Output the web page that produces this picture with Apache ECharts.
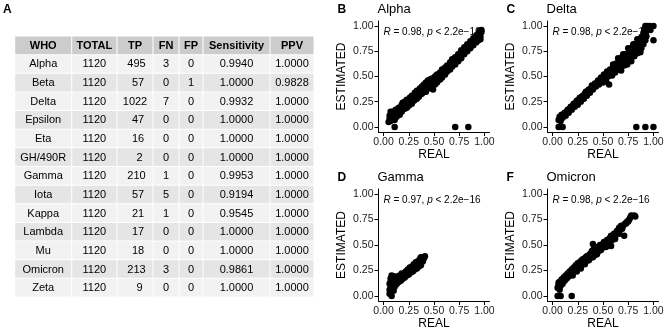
<!DOCTYPE html>
<html>
<head>
<meta charset="utf-8">
<script src="https://cdn.jsdelivr.net/npm/echarts@6/dist/echarts.min.js"></script>
<style>
html, body { margin: 0; padding: 0; background: #fff; }
#chart { width: 669px; height: 333px; }
</style>
</head>
<body>
<div id="chart"></div>
<script>
// ---- table A ----
var headers = ['WHO', 'TOTAL', 'TP', 'FN', 'FP', 'Sensitivity', 'PPV'];
var variants = ['Alpha', 'Beta', 'Delta', 'Epsilon', 'Eta', 'GH/490R', 'Gamma', 'Iota', 'Kappa', 'Lambda', 'Mu', 'Omicron', 'Zeta'];
var total = [1120, 1120, 1120, 1120, 1120, 1120, 1120, 1120, 1120, 1120, 1120, 1120, 1120];
var tp = [495, 57, 1022, 47, 16, 2, 210, 57, 21, 17, 18, 213, 9];
var fn = [3, 0, 7, 0, 0, 0, 1, 5, 1, 0, 0, 3, 0];
var fp = [0, 1, 0, 0, 0, 0, 0, 0, 0, 0, 0, 0, 0];
var sensitivity = [0.9940, 1, 0.9932, 1, 1, 1, 0.9953, 0.9194, 0.9545, 1, 1, 0.9861, 1];
var ppv = [1, 0.9828, 1, 1, 1, 1, 1, 1, 1, 1, 1, 1, 1];

// ---- scatter panels B, C, D, F : [REAL, ESTIMATED] ----
var alphaPts = [
    [0.05, 0.05], [0.06, 0.08], [0.06, 0.11], [0.07, 0.06], [0.08, 0.13], [0.09, 0.09], [0.10, 0.12],
    [0.11, 0.07], [0.12, 0.14], [0.13, 0.10], [0.14, 0.16], [0.15, 0.13], [0.17, 0.17], [0.16, 0.12],
    [0.19, 0.24], [0.20, 0.20], [0.22, 0.22], [0.24, 0.25], [0.25, 0.21], [0.27, 0.26], [0.29, 0.29],
    [0.30, 0.26], [0.32, 0.31], [0.34, 0.33], [0.35, 0.30], [0.37, 0.35], [0.39, 0.36], [0.41, 0.39],
    [0.43, 0.38], [0.45, 0.42], [0.47, 0.41], [0.49, 0.37], [0.50, 0.45], [0.52, 0.47], [0.54, 0.46],
    [0.55, 0.50], [0.57, 0.51], [0.59, 0.54], [0.60, 0.52], [0.62, 0.57], [0.64, 0.58], [0.65, 0.61],
    [0.67, 0.60], [0.69, 0.64], [0.70, 0.66], [0.72, 0.65], [0.73, 0.69], [0.75, 0.70], [0.76, 0.73],
    [0.78, 0.72], [0.79, 0.76], [0.81, 0.77], [0.82, 0.79], [0.84, 0.78], [0.85, 0.82], [0.87, 0.83],
    [0.88, 0.85], [0.90, 0.84], [0.91, 0.88], [0.93, 0.89], [0.94, 0.91], [0.95, 0.93], [0.96, 0.90],
    [0.97, 0.94], [0.96, 0.87],
    [0.07, 0.15], [0.09, 0.15], [0.12, 0.17], [0.15, 0.19], [0.18, 0.22], [0.21, 0.25], [0.23, 0.27],
    [0.26, 0.29], [0.28, 0.31], [0.31, 0.34], [0.33, 0.36], [0.36, 0.38], [0.38, 0.40], [0.40, 0.42],
    [0.42, 0.44], [0.44, 0.46], [0.46, 0.47], [0.48, 0.48], [0.51, 0.50], [0.53, 0.52], [0.56, 0.54],
    [0.58, 0.57], [0.61, 0.59], [0.63, 0.61], [0.66, 0.64], [0.68, 0.67], [0.71, 0.69], [0.74, 0.72],
    [0.77, 0.76], [0.80, 0.79], [0.83, 0.82], [0.86, 0.85], [0.89, 0.88], [0.92, 0.91], [0.95, 0.95],
    [0.97, 0.96],
    [0.18, 0.15], [0.21, 0.18], [0.23, 0.19], [0.26, 0.23], [0.28, 0.23], [0.31, 0.27], [0.33, 0.28],
    [0.36, 0.32], [0.38, 0.33], [0.40, 0.35], [0.42, 0.35], [0.44, 0.38], [0.46, 0.39], [0.51, 0.42],
    [0.53, 0.44], [0.56, 0.47], [0.58, 0.49], [0.61, 0.52], [0.63, 0.55], [0.66, 0.57], [0.68, 0.60],
    [0.71, 0.62], [0.74, 0.65], [0.77, 0.68], [0.80, 0.72], [0.83, 0.75], [0.86, 0.78], [0.89, 0.81],
    [0.92, 0.84], [0.94, 0.86],
    [0.11, 0.00], [0.71, 0.00], [0.84, 0.00]
];
var deltaPts = [
    [0.06, 0.07], [0.07, 0.10], [0.08, 0.06], [0.09, 0.12], [0.10, 0.09], [0.12, 0.14], [0.13, 0.11],
    [0.15, 0.17], [0.16, 0.14], [0.18, 0.20], [0.19, 0.17], [0.21, 0.23], [0.22, 0.20], [0.24, 0.26],
    [0.25, 0.22], [0.27, 0.29], [0.28, 0.25], [0.30, 0.31], [0.31, 0.28], [0.33, 0.35], [0.34, 0.31],
    [0.36, 0.37], [0.37, 0.34], [0.39, 0.41], [0.40, 0.37], [0.42, 0.43], [0.43, 0.40], [0.45, 0.46],
    [0.46, 0.42], [0.48, 0.49], [0.49, 0.45], [0.51, 0.52], [0.52, 0.47], [0.54, 0.55], [0.55, 0.50],
    [0.56, 0.42], [0.57, 0.57], [0.58, 0.52], [0.60, 0.60], [0.61, 0.55], [0.63, 0.63], [0.64, 0.58],
    [0.66, 0.67], [0.67, 0.61], [0.68, 0.56], [0.69, 0.69], [0.70, 0.64], [0.72, 0.72], [0.73, 0.67],
    [0.74, 0.62], [0.76, 0.75], [0.77, 0.70], [0.78, 0.65], [0.79, 0.79], [0.80, 0.73], [0.82, 0.82],
    [0.83, 0.76], [0.85, 0.86], [0.86, 0.80], [0.87, 0.74], [0.88, 0.89], [0.89, 0.84], [0.90, 0.93],
    [0.91, 0.97], [0.92, 1.00], [0.94, 1.00], [0.96, 1.00], [0.97, 0.96], [0.93, 0.90], [1.00, 1.00],
    [1.00, 0.86],
    [0.08, 0.09], [0.11, 0.12], [0.14, 0.15], [0.17, 0.18], [0.20, 0.21], [0.23, 0.24], [0.26, 0.27],
    [0.29, 0.30], [0.32, 0.33], [0.35, 0.36], [0.38, 0.38], [0.41, 0.40], [0.44, 0.43], [0.47, 0.46],
    [0.50, 0.49], [0.53, 0.51], [0.56, 0.54], [0.59, 0.57], [0.62, 0.60], [0.65, 0.63], [0.68, 0.66],
    [0.71, 0.69], [0.74, 0.72], [0.77, 0.75], [0.80, 0.78], [0.83, 0.81], [0.86, 0.84], [0.89, 0.87],
    [0.92, 0.94],
    [0.50, 0.44], [0.53, 0.46], [0.59, 0.51], [0.62, 0.54], [0.65, 0.57], [0.71, 0.61], [0.75, 0.66],
    [0.81, 0.70], [0.84, 0.73], [0.88, 0.78], [0.90, 0.82], [0.92, 0.86],
    [0.60, 0.62], [0.65, 0.68], [0.70, 0.72], [0.75, 0.78], [0.80, 0.82], [0.84, 0.87],
    [0.06, 0.00], [0.10, 0.00], [0.83, 0.00], [0.92, 0.00], [1.00, 0.00]
];
var gammaPts = [
    [0.06, 0.02], [0.06, 0.06], [0.07, 0.10], [0.07, 0.14], [0.08, 0.00], [0.08, 0.08], [0.08, 0.20],
    [0.09, 0.12], [0.09, 0.16], [0.10, 0.05], [0.10, 0.10], [0.11, 0.14], [0.11, 0.19], [0.12, 0.11],
    [0.13, 0.16], [0.14, 0.13], [0.15, 0.17], [0.16, 0.15], [0.17, 0.18], [0.18, 0.16], [0.19, 0.20],
    [0.20, 0.18], [0.21, 0.21], [0.22, 0.20], [0.23, 0.23], [0.24, 0.22], [0.25, 0.25], [0.26, 0.24],
    [0.27, 0.26], [0.28, 0.25], [0.29, 0.28], [0.30, 0.27], [0.31, 0.29], [0.32, 0.30], [0.33, 0.29],
    [0.34, 0.31], [0.35, 0.32], [0.36, 0.33], [0.37, 0.31], [0.38, 0.35], [0.39, 0.34], [0.40, 0.37],
    [0.41, 0.39],
    [0.12, 0.18], [0.14, 0.19], [0.16, 0.20], [0.18, 0.22], [0.20, 0.22], [0.22, 0.24], [0.24, 0.26],
    [0.26, 0.28], [0.28, 0.29], [0.30, 0.31], [0.32, 0.33], [0.34, 0.34], [0.36, 0.36], [0.37, 0.38],
    [0.39, 0.37], [0.06, 0.12], [0.07, 0.17], [0.09, 0.19], [0.11, 0.09], [0.13, 0.12], [0.15, 0.14],
    [0.17, 0.15], [0.19, 0.17], [0.21, 0.18], [0.23, 0.20], [0.25, 0.21], [0.27, 0.23], [0.29, 0.24],
    [0.31, 0.26], [0.33, 0.27], [0.35, 0.29], [0.37, 0.30]
];
var omicronPts = [
    [0.05, 0.08], [0.06, 0.11], [0.07, 0.06], [0.07, 0.14], [0.08, 0.10], [0.09, 0.16], [0.10, 0.12],
    [0.11, 0.18], [0.12, 0.15], [0.13, 0.20], [0.14, 0.17], [0.15, 0.22], [0.16, 0.19], [0.17, 0.24],
    [0.18, 0.21], [0.19, 0.26], [0.20, 0.23], [0.21, 0.28], [0.22, 0.25], [0.23, 0.30], [0.24, 0.27],
    [0.25, 0.32], [0.26, 0.28], [0.27, 0.33], [0.28, 0.30], [0.29, 0.35], [0.30, 0.32], [0.32, 0.37],
    [0.33, 0.34], [0.34, 0.39], [0.35, 0.35], [0.36, 0.40], [0.37, 0.37], [0.38, 0.42], [0.39, 0.39],
    [0.40, 0.51], [0.41, 0.43], [0.42, 0.40], [0.43, 0.45], [0.45, 0.47], [0.46, 0.44], [0.48, 0.50],
    [0.49, 0.47], [0.51, 0.53], [0.52, 0.50], [0.54, 0.55], [0.55, 0.52], [0.57, 0.57], [0.58, 0.49],
    [0.59, 0.55], [0.61, 0.61], [0.62, 0.58], [0.64, 0.64], [0.65, 0.62], [0.66, 0.67], [0.68, 0.69],
    [0.69, 0.66], [0.71, 0.59], [0.72, 0.71], [0.74, 0.73], [0.76, 0.75], [0.78, 0.79], [0.81, 0.79],
    [0.82, 0.78],
    [0.06, 0.13], [0.08, 0.13], [0.10, 0.15], [0.12, 0.18], [0.14, 0.20], [0.16, 0.22], [0.18, 0.24],
    [0.20, 0.26], [0.22, 0.28], [0.24, 0.30], [0.26, 0.32], [0.28, 0.34], [0.30, 0.36], [0.31, 0.34],
    [0.33, 0.38], [0.35, 0.39], [0.37, 0.41], [0.39, 0.44], [0.41, 0.46], [0.43, 0.42], [0.44, 0.48],
    [0.47, 0.50], [0.50, 0.51], [0.53, 0.53], [0.56, 0.56], [0.58, 0.59], [0.60, 0.58], [0.63, 0.62],
    [0.67, 0.65], [0.70, 0.69], [0.73, 0.71], [0.75, 0.73], [0.77, 0.77],
    [0.20, 0.20], [0.24, 0.24], [0.28, 0.27], [0.32, 0.31], [0.36, 0.35], [0.40, 0.38], [0.44, 0.41],
    [0.48, 0.45], [0.53, 0.48], [0.57, 0.52], [0.62, 0.56], [0.66, 0.61],
    [0.05, 0.00], [0.08, 0.00], [0.19, 0.00]
];

var panelLetters = ['B', 'C', 'D', 'F'];
var panelNames = ['Alpha', 'Delta', 'Gamma', 'Omicron'];
var panelR = [0.98, 0.98, 0.97, 0.98];
var panelPts = [alphaPts, deltaPts, gammaPts, omicronPts];
var axisTicks = [0, 0.25, 0.5, 0.75, 1];

var FONT = '"Liberation Sans", Arial, sans-serif';

// table cells
var colWidths = [57, 45.3, 36, 26, 24, 67, 44];
var colEdges = [0];
colWidths.forEach(function (w, i) { colEdges.push(colEdges[i] + w); });
var tableW = colEdges[colEdges.length - 1];

var cells = [], cellText = [];
headers.forEach(function (h, c) { cells.push([c, 0]); cellText.push(h); });
variants.forEach(function (v, i) {
    var row = [v, String(total[i]), String(tp[i]).padStart(4, ' '), String(fn[i]), String(fp[i]),
        sensitivity[i].toFixed(4), ppv[i].toFixed(4)];
    row.forEach(function (t, c) { cells.push([c, i + 1]); cellText.push(t); });
});

var grids = [{ left: 14.7, top: 36, width: tableW, height: 261 }];
var panelPos = [[378.5, 21], [547.5, 21], [378.5, 189], [547.5, 189]];
panelPos.forEach(function (p, k) {
    grids.push({ left: p[0], top: p[1], width: 111, height: k < 2 ? 111 : 112 });
});
grids.forEach(function (g) { g.outerBoundsMode = 'none'; });

var xAxes = [{ gridIndex: 0, type: 'value', min: 0, max: tableW, show: false }];
var yAxes = [{ gridIndex: 0, type: 'category', inverse: true, show: false, data: ['header'].concat(variants) }];

function panelAxis(k, name, isX) {
    return {
        gridIndex: k,
        type: 'value',
        min: -0.05,
        max: 1.05,
        name: name,
        nameLocation: 'middle',
        nameGap: isX ? 17 : 31,
        nameTextStyle: { color: '#000', fontSize: 12, fontFamily: FONT },
        axisLine: { show: true, onZero: false, lineStyle: { color: '#000', width: 1 } },
        axisTick: { show: true, length: 4, customValues: axisTicks, lineStyle: { color: '#000', width: 1 } },
        axisLabel: {
            customValues: axisTicks, margin: 5, color: '#222', fontSize: 10.5, fontFamily: FONT,
            formatter: function (v) { return v.toFixed(2); }
        },
        splitLine: { show: false }
    };
}

var series = [{
    type: 'custom',
    xAxisIndex: 0,
    yAxisIndex: 0,
    data: cells,
    silent: true,
    renderItem: function (params, api) {
        var c = api.value(0), r = api.value(1);
        var x0 = api.coord([colEdges[c], r])[0];
        var x1 = api.coord([colEdges[c + 1], r])[0];
        var yc = api.coord([0, r])[1];
        var h = api.size([0, 1])[1];
        var fill = r === 0 ? '#cccccc' : (r % 2 ? '#f2f2f2' : '#e5e5e5');
        return {
            type: 'group',
            children: [{
                type: 'rect',
                shape: { x: x0 + 0.5, y: yc - h / 2 + 0.5, width: x1 - x0 - 1, height: h - 1 },
                style: { fill: fill }
            }, {
                type: 'text',
                style: {
                    text: cellText[params.dataIndex],
                    x: (x0 + x1) / 2, y: yc + 0.5,
                    align: 'center', verticalAlign: 'middle',
                    fill: '#000',
                    font: (r === 0 ? 'bold ' : '') + '11px ' + FONT
                }
            }]
        };
    }
}];

var graphics = [{
    type: 'text', left: 3, top: 4,
    style: { text: 'A', fill: '#000', font: 'bold 12px ' + FONT }
}];

panelPts.forEach(function (pts, i) {
    var k = i + 1;
    var p = panelPos[i];
    xAxes.push(panelAxis(k, 'REAL', true));
    yAxes.push(panelAxis(k, 'ESTIMATED', false));
    series.push({
        type: 'scatter',
        xAxisIndex: k,
        yAxisIndex: k,
        data: pts,
        symbolSize: 6.5,
        itemStyle: { color: '#000', opacity: 1 },
        z: 3
    });
    graphics.push({
        type: 'text', left: p[0] - 41, top: p[1] - 17,
        style: { text: panelLetters[i], fill: '#000', font: 'bold 12px ' + FONT }
    });
    graphics.push({
        type: 'text', left: p[0] - 1, top: p[1] - 18,
        style: { text: panelNames[i], fill: '#000', font: '13px ' + FONT }
    });
    graphics.push({
        type: 'text', left: p[0] + 5, top: p[1] + 6, z: 0,
        style: {
            text: '{i|R} = ' + panelR[i].toFixed(2) + ', {i|p} < 2.2e\u221216',
            fill: '#000', font: '10px ' + FONT,
            rich: { i: { fontStyle: 'italic', fontSize: 10, fontFamily: FONT, fill: '#000' } }
        }
    });
});

var option = {
    backgroundColor: '#fff',
    animation: false,
    grid: grids,
    xAxis: xAxes,
    yAxis: yAxes,
    graphic: graphics,
    series: series
};

var chart = echarts.init(document.getElementById('chart'));
chart.setOption(option);
</script>
</body>
</html>
